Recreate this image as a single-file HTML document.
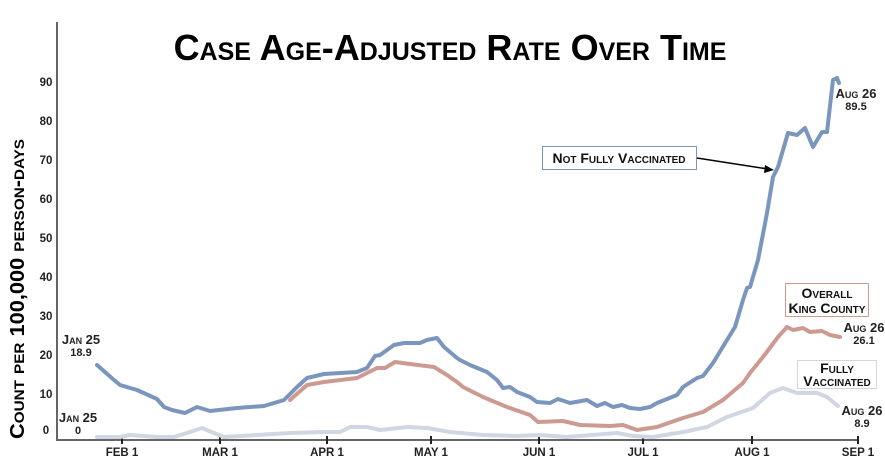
<!DOCTYPE html>
<html><head><style>
body{margin:0;background:#fff}
svg{display:block;font-family:"Liberation Sans",sans-serif}
.t{font-variant:small-caps;font-weight:bold}
</style></head><body>
<svg width="885" height="471" viewBox="0 0 885 471">
<text x="450" y="60" text-anchor="middle" class="t" font-size="36" fill="#000">Case Age-Adjusted Rate Over Time</text>
<g font-size="11.5" font-weight="bold" fill="#222" text-anchor="middle">
<text x="46" y="86">90</text><text x="46" y="125">80</text><text x="46" y="164">70</text><text x="46" y="203">60</text><text x="46" y="242">50</text><text x="46" y="281">40</text><text x="46" y="320">30</text><text x="46" y="359">20</text><text x="46" y="398">10</text><text x="46" y="434">0</text>
</g>
<text transform="translate(24,289) rotate(-90)" text-anchor="middle" class="t" font-size="20" fill="#000" textLength="300" lengthAdjust="spacingAndGlyphs">Count per 100,000 person-days</text>
<path d="M57 22V440H858" fill="none" stroke="#666" stroke-width="2"/>
<g stroke="#222" stroke-width="2"><path d="M122 436v8M220 436v8M327 436v8M431 436v8M539 436v8M643 436v8M752 436v8M858 436v8"/></g>
<g font-size="11.5" font-weight="bold" fill="#222" text-anchor="middle">
<text x="122" y="456">FEB 1</text><text x="220" y="456">MAR 1</text><text x="327" y="456">APR 1</text><text x="431" y="456">MAY 1</text><text x="539" y="456">JUN 1</text><text x="643" y="456">JUL 1</text><text x="752" y="456">AUG 1</text><text x="858" y="456">SEP 1</text>
</g>
<g fill="none" stroke-width="4" stroke-linejoin="round" stroke-linecap="round">
<polyline stroke="#d0d6e2" points="97,437 120,437 130,435 157,437 174,437 190,432 202,428 214,433 224,437 257,435 290,433 324,432 340,432 350,427 367,427 380,430 407,427 427,428 450,432 483,435 517,436 540,435 567,437 617,433 633,436 653,437 683,432 707,427 727,417 753,408 770,393 783,388 797,393 817,393 827,397 838,406"/>
<polyline stroke="#cc9a90" points="290,400 307,385 324,382 357,378 377,368 385,368 395,362 410,364 434,367 447,375 457,382 463,387 483,397 507,407 530,415 538,422 563,421 580,425 610,426 623,425 637,430 657,427 683,418 703,412 723,400 743,383 750,373 763,357 778,337 787,327 793,330 803,328 810,332 822,331 830,335 840,337"/>
<polyline stroke="#7b96bd" points="97,365 114,380 120,385 137,390 157,399 164,407 172,410 185,413 197,407 210,411 237,408 264,406 284,400 297,387 307,378 324,374 357,372 367,368 375,356 380,355 394,345 404,343 420,343 427,340 437,338 444,347 457,358 460,360 470,365 487,372 497,380 503,388 510,387 517,392 530,397 537,402 550,403 558,399 570,403 587,400 597,406 605,403 613,407 622,405 630,408 640,409 650,407 657,403 677,395 683,387 697,378 703,376 713,363 727,340 735,327 743,300 747,288 750,287 758,260 767,213 773,177 778,167 788,133 797,135 805,128 813,147 822,132 827,132 833,80 837,78 839,83"/>
</g>
<g font-size="11" font-weight="bold" fill="#222" text-anchor="middle">
<text x="81" y="344" class="t" font-size="13">Jan 25</text><text x="81" y="356">18.9</text>
<text x="78" y="422" class="t" font-size="13">Jan 25</text><text x="78" y="434">0</text>
<text x="856" y="98" class="t" font-size="13">Aug 26</text><text x="856" y="110">89.5</text>
<text x="864" y="332" class="t" font-size="13">Aug 26</text><text x="864" y="344">26.1</text>
<text x="862" y="415" class="t" font-size="13">Aug 26</text><text x="862" y="427">8.9</text>
</g>
<rect x="542.5" y="146.5" width="154" height="23" fill="#fff" stroke="#7b96bd"/>
<text x="619" y="163" text-anchor="middle" class="t" font-size="14" fill="#111">Not Fully Vaccinated</text>
<path d="M697 158L768 169" stroke="#000" stroke-width="1.5"/><path d="M774 170l-9 -5l-1 8z" fill="#000"/>
<rect x="785.5" y="283.5" width="83" height="33" fill="#fff" stroke="#cc9a90"/>
<text x="827" y="298" text-anchor="middle" class="t" font-size="14" fill="#111">Overall</text>
<text x="827" y="313" text-anchor="middle" class="t" font-size="14" fill="#111">King County</text>
<rect x="797.5" y="360.5" width="79" height="28" fill="#fff" stroke="#d0d6e2"/>
<text x="837" y="373" text-anchor="middle" class="t" font-size="14" fill="#111">Fully</text>
<text x="837" y="386" text-anchor="middle" class="t" font-size="14" fill="#111">Vaccinated</text>
</svg>
</body></html>
